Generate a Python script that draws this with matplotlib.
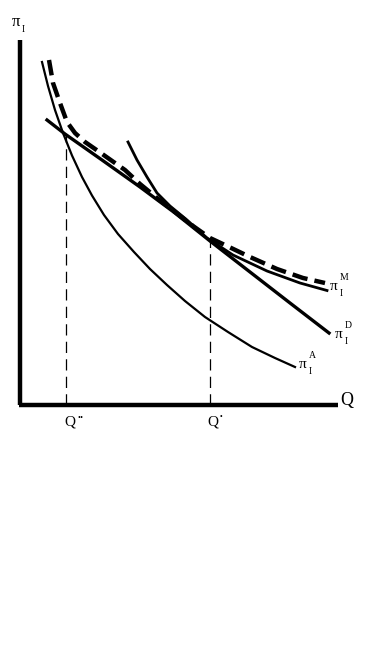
import matplotlib
matplotlib.use("Agg")
import matplotlib.pyplot as plt

# Coordinates: Q to the right of the origin, pi upward
piA_q = [22, 28, 35, 43, 52, 62, 72, 84, 98, 114, 130, 147, 165, 185, 208, 232, 255, 275]
piA_p = [343, 319, 295, 272, 249.5, 228, 209.5, 190, 171, 153, 136, 120, 104, 88, 73, 58, 47, 38]

piD_q = [27, 45, 82, 120, 155, 190, 230, 270, 309]
piD_p = [285, 271, 245, 218, 192, 164, 133, 102, 72]

piM_q = [108, 117, 127, 137, 150, 167, 187, 213, 247, 280, 307]
piM_p = [263, 245, 228, 212, 199, 185, 167, 150, 134, 122, 114.5]

env_q = [29, 33, 40, 47, 55, 65, 78, 95, 105, 120, 137, 155, 173, 190, 207, 230, 257, 283, 305]
env_p = [345, 322, 302, 283, 272, 263, 254, 242, 235, 221, 207, 193, 179, 167, 159, 148, 136, 127, 122]

q_star2 = 46      # Q**
q_star = 190      # Q*
p_star2 = 270
p_star = 165

fig = plt.figure(figsize=(3.83, 6.49), dpi=100)
ax = fig.add_axes([0, 0, 1, 1])
ax.set_xlim(-20, 363)
ax.set_ylim(-244, 405)
ax.axis('off')

serif = 'Liberation Serif'

# axes
ax.plot([0, 0], [0, 365], color='black', lw=3.2, solid_capstyle='butt')
ax.plot([-1.5, 318], [0, 0], color='black', lw=3.2, solid_capstyle='butt')

# curves
ax.plot(piA_q, piA_p, color='black', lw=1.6, solid_joinstyle='round')
ax.plot(piD_q, piD_p, color='black', lw=2.4, solid_joinstyle='round')
ax.plot(piM_q, piM_p, color='black', lw=2.0, solid_joinstyle='round')
ax.plot(env_q, env_p, color='black', lw=3.2, dashes=(3.5, 1.6))

# vertical dashed guides
ax.plot([q_star2, q_star2], [0, p_star2], color='black', lw=0.9, dashes=(9, 5))
ax.plot([q_star, q_star], [0, p_star], color='black', lw=0.9, dashes=(9, 5))

# labels
ax.text(-8, 383, 'π', fontsize=12, family=serif, ha='left', va='center')
ax.text(2, 375, 'I', fontsize=7, family=serif, ha='left', va='center')

ax.text(320, 4, 'Q', fontsize=13, family=serif, ha='left', va='center')

ax.text(50, -17, 'Q', fontsize=11, family=serif, ha='center', va='center')
ax.text(57, -13, '••', fontsize=6, family=serif, ha='left', va='center')
ax.text(193, -17, 'Q', fontsize=11, family=serif, ha='center', va='center')
ax.text(200, -12, '•', fontsize=5.5, family=serif, ha='left', va='center')

def pilabel(x, y, sup):
    ax.text(x, y, 'π', fontsize=11, family=serif, ha='center', va='center')
    ax.text(x + 6, y - 7, 'I', fontsize=7, family=serif, ha='left', va='center')
    ax.text(x + 6, y + 9, sup, fontsize=7, family=serif, ha='left', va='center')

pilabel(314, 118, 'M')
pilabel(319, 71, 'D')
pilabel(283, 41, 'A')

fig.savefig('out.png', dpi=100)
